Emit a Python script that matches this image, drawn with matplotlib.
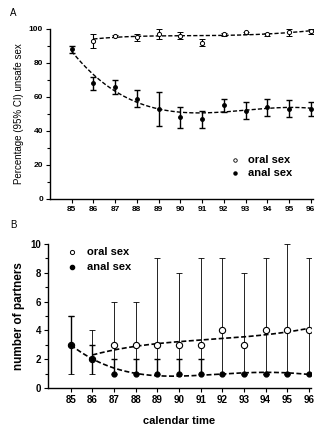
import matplotlib
matplotlib.use("Agg")
import matplotlib.pyplot as plt
import numpy as np
from matplotlib.ticker import MultipleLocator

plt.rcParams["font.family"] = ["Liberation Sans", "DejaVu Sans"]

years = np.arange(85, 97)

# panel A: percentage unsafe sex (95% CI)
oral_years = np.arange(86, 97)
oral_pct = [93, 96, 95, 97, 96, 92, 97, 98, 97, 98, 99]
oral_lo = [89, 95, 93, 94, 94, 90, 96, 97, 96, 96, 97]
oral_hi = [97, 96.5, 97, 100, 98, 94, 97.5, 98.5, 97.5, 100, 100]
anal_pct = [88, 68, 66, 59, 53, 48, 47, 55, 52, 54, 53, 53]
anal_lo = [86, 64, 62, 54, 43, 42, 42, 51, 47, 49, 48, 49]
anal_hi = [90, 72, 70, 64, 63, 54, 52, 59, 57, 59, 58, 57]
# trend
oral_trend_a = [94, 95.3, 95.6, 95.8, 96, 96.1, 96.3, 96.6, 97, 97.8, 99]
anal_trend_a = [87, 73, 63.5, 57, 53, 51, 50.5, 51, 52.5, 53.5, 53.5, 53.5]

# panel B: number of partners (median, range)
oral_n = [3, 2, 3, 3, 3, 3, 3, 4, 3, 4, 4, 4]
oral_n_hi = [5, 4, 6, 6, 9, 8, 9, 9, 8, 9, 10, 9]
anal_n = [3, 2, 1, 1, 1, 1, 1, 1, 1, 1, 1, 1]
anal_n_hi = [5, 3, 2, 2, 2, 2, 2, 1, 1, 1, 1, 1]
n_lo = 1
oral_trend_years = np.arange(86, 97)
oral_trend_b = [2.3, 2.65, 2.9, 3.1, 3.2, 3.35, 3.45, 3.55, 3.7, 3.9, 4.15]
anal_trend_b = [3.0, 2.0, 1.4, 1.05, 0.85, 0.8, 0.9, 1.0, 1.05, 1.1, 1.05, 0.95]


def smooth(x, y, deg=5):
    xs = np.linspace(x[0], x[-1], 200)
    return xs, np.polyval(np.polyfit(x, y, deg), xs)


def style_axes(ax, size):
    for s in ("top", "right"):
        ax.spines[s].set_visible(False)
    for s in ("left", "bottom"):
        ax.spines[s].set_linewidth(1.0)
    ax.set_xticks(years)
    ax.tick_params(axis="both", direction="out", length=3, width=0.8, pad=2,
                   labelsize=size)
    ax.tick_params(axis="y", which="minor", length=2, width=0.8)
    for lab in ax.get_xticklabels() + ax.get_yticklabels():
        lab.set_fontweight("bold")


fig = plt.figure(figsize=(3.28, 4.26), dpi=100)

# ---- panel A
axA = fig.add_axes([0.152, 0.533, 0.802, 0.399])
xs, ys = smooth(oral_years, oral_trend_a, 4)
axA.plot(xs, ys, "k--", lw=1.0, dashes=(3, 1.5))
xs, ys = smooth(years, anal_trend_a, 5)
axA.plot(xs, ys, "k--", lw=1.0, dashes=(3, 1.5))
axA.errorbar(oral_years, oral_pct,
             yerr=[np.subtract(oral_pct, oral_lo), np.subtract(oral_hi, oral_pct)],
             fmt="o", ms=3, mfc="white", mec="k", mew=0.7, ecolor="k",
             elinewidth=0.8, capsize=2, capthick=0.8)
axA.errorbar(years, anal_pct,
             yerr=[np.subtract(anal_pct, anal_lo), np.subtract(anal_hi, anal_pct)],
             fmt="o", ms=2.5, mfc="k", mec="k", ecolor="k",
             elinewidth=1.0, capsize=2, capthick=1.0)
axA.set_xlim(84.0, 96.1)
axA.set_ylim(0, 100)
axA.yaxis.set_major_locator(MultipleLocator(20))
axA.yaxis.set_minor_locator(MultipleLocator(10))
axA.set_ylabel("Percentage (95% CI) unsafe sex", fontsize=7, labelpad=3)
style_axes(axA, 6)
axA.plot([92.5], [23], "o", ms=2.5, mfc="white", mec="k", mew=0.6)
axA.plot([92.5], [15], "o", ms=2.2, mfc="k", mec="k")
axA.text(93.1, 23, "oral sex", fontsize=8, fontweight="bold", va="center")
axA.text(93.1, 15, "anal sex", fontsize=8, fontweight="bold", va="center")
fig.text(0.03, 0.962, "A", fontsize=7)

# ---- panel B
axB = fig.add_axes([0.146, 0.089, 0.802, 0.338])
axB.vlines(years, n_lo, oral_n_hi, color="k", lw=0.6)
axB.plot(years, oral_n_hi, "_", color="k", ms=4, mew=0.6)
axB.vlines(years, n_lo, anal_n_hi, color="k", lw=1.0)
axB.plot(years, anal_n_hi, "_", color="k", ms=4, mew=1.0)
axB.plot(years, [n_lo] * len(years), "_", color="k", ms=4, mew=0.6)
xs, ys = smooth(oral_trend_years, oral_trend_b, 4)
axB.plot(xs, ys, "k--", lw=1.2, dashes=(3, 1.5))
xs, ys = smooth(years, anal_trend_b, 5)
axB.plot(xs, ys, "k--", lw=1.2, dashes=(3, 1.5))
axB.plot(years, oral_n, "o", ms=4.5, mfc="white", mec="k", mew=0.8, zorder=5)
axB.plot(years, anal_n, "o", ms=3.5, mfc="k", mec="k", zorder=6)
axB.set_xlim(83.94, 96.1)
axB.set_ylim(0, 10)
axB.yaxis.set_major_locator(MultipleLocator(2))
axB.yaxis.set_minor_locator(MultipleLocator(1))
axB.set_ylabel("number of partners", fontsize=8.5, fontweight="bold", labelpad=4)
axB.set_xlabel("calendar time", fontsize=8, fontweight="bold", labelpad=8)
style_axes(axB, 7)
axB.plot([85.05], [9.45], "o", ms=3, mfc="white", mec="k", mew=0.7)
axB.plot([85.05], [8.4], "o", ms=3, mfc="k", mec="k")
axB.text(85.75, 9.45, "oral sex", fontsize=8, fontweight="bold", va="center")
axB.text(85.75, 8.4, "anal sex", fontsize=8, fontweight="bold", va="center")
fig.text(0.03, 0.465, "B", fontsize=7)

fig.savefig("out.png", dpi=100)
